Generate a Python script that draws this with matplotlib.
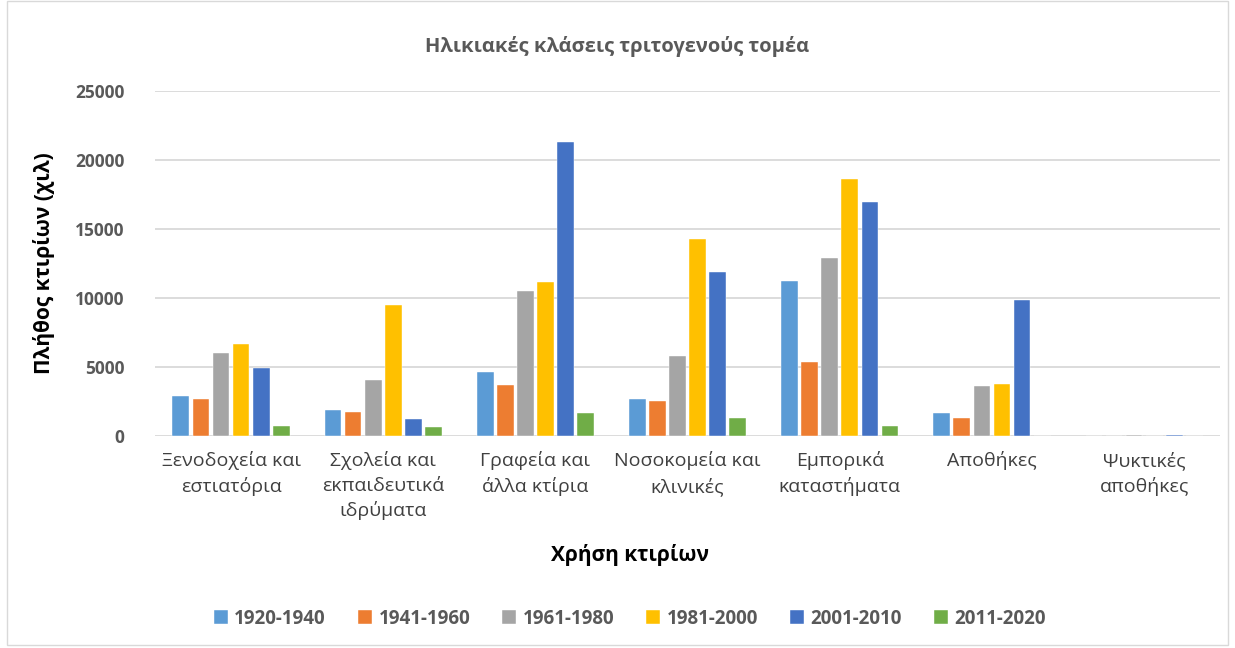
import matplotlib.pyplot as plt
import matplotlib.patches as mpatches
import numpy as np

plt.rcParams["font.family"] = ["Open Sans", "DejaVu Sans"]

categories = [
    "Ξενοδοχεία και\nεστιατόρια",
    "Σχολεία και\nεκπαιδευτικά\nιδρύματα",
    "Γραφεία και\nάλλα κτίρια",
    "Νοσοκομεία και\nκλινικές",
    "Εμπορικά\nκαταστήματα",
    "Αποθήκες",
    "Ψυκτικές\nαποθήκες",
]
periods = ["1920-1940", "1941-1960", "1961-1980", "1981-2000", "2001-2010", "2011-2020"]
colors = ["#5B9BD5", "#ED7D31", "#A5A5A5", "#FFC000", "#4472C4", "#70AD47"]

v_1920_1940 = [2880, 1860, 4620, 2680, 11260, 1670, 10]
v_1941_1960 = [2680, 1740, 3700, 2560, 5400, 1280, 10]
v_1961_1980 = [6030, 4030, 10500, 5790, 12900, 3620, 60]
v_1981_2000 = [6700, 9480, 11170, 14250, 18640, 3760, 40]
v_2001_2010 = [4900, 1230, 21320, 11910, 16970, 9890, 90]
v_2011_2020 = [730, 630, 1670, 1280, 730, 0, 0]
series = [v_1920_1940, v_1941_1960, v_1961_1980, v_1981_2000, v_2001_2010, v_2011_2020]

fig = plt.figure(figsize=(12.35, 6.48), dpi=100)
ax = fig.add_axes([0.1255, 0.327, 0.8625, 0.5326])

x = np.arange(len(categories))
step = 0.132
width = 0.11
for i, (lab, vals, col) in enumerate(zip(periods, series, colors)):
    offset = (i - (len(series) - 1) / 2) * step
    ax.bar(x + offset, vals, width, color=col, label=lab, edgecolor="white", linewidth=0.3, zorder=3)

ax.set_xlim(-0.5, len(categories) - 0.5)
ax.set_ylim(0, 25000)
ax.set_yticks(np.arange(0, 25001, 5000))
ax.grid(axis="y", color="#d9d9d9", linewidth=1.3, zorder=0)
for s in ax.spines.values():
    s.set_visible(False)
ax.tick_params(axis="both", length=0)
ax.tick_params(axis="y", pad=22, labelsize=12.5, labelcolor="#595959")
ax.tick_params(axis="x", pad=11, labelsize=14, labelcolor="#404040")
for t in ax.get_yticklabels():
    t.set_fontweight("bold")
ax.set_xticks(x)
ax.set_xticklabels(categories, linespacing=1.45)

fig.text(0.5, 0.928, "Ηλικιακές κλάσεις τριτογενούς τομέα", ha="center", va="center",
         fontsize=14.5, fontweight="bold", color="#595959")
fig.text(0.036, 0.594, "Πλήθος κτιρίων (χιλ)", ha="center", va="center", rotation=90,
         fontsize=15, fontweight="bold", color="black")
fig.text(0.51, 0.1435, "Χρήση κτιρίων", ha="center", va="center",
         fontsize=15, fontweight="bold", color="black")

leg = fig.legend(loc="center", bbox_to_anchor=(0.51, 0.045), ncol=6, frameon=False,
                 handlelength=0.75, handleheight=0.75, handletextpad=0.35, columnspacing=1.7,
                 prop={"size": 13.5, "weight": "bold"})
for t in leg.get_texts():
    t.set_color("#595959")

fig.patches.append(mpatches.Rectangle((0.006, 0.004), 0.988, 0.994, transform=fig.transFigure,
                                      fill=False, edgecolor="#d9d9d9", linewidth=1))

fig.savefig("out.png", dpi=100)
